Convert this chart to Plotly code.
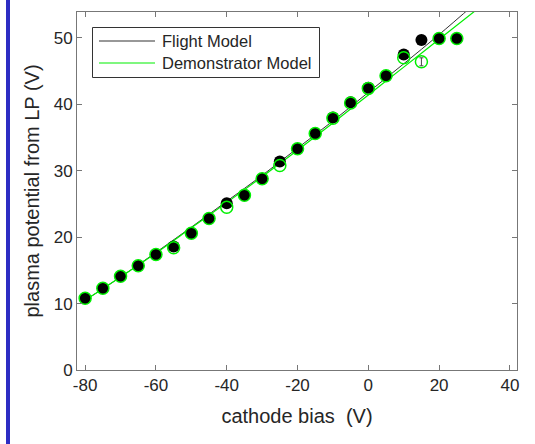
import plotly.graph_objects as go

# ---- data ----
cathode_bias = [-80, -75, -70, -65, -60, -55, -50, -45, -40, -35, -30, -25,
                -20, -15, -10, -5, 0, 5, 10, 15, 20, 25]
flight_pot = [10.8, 12.3, 14.1, 15.7, 17.4, 18.6, 20.6, 22.8, 25.1, 26.3, 28.8, 31.4,
              33.3, 35.6, 38.0, 40.3, 42.5, 44.3, 47.5, 49.7, 49.9, 49.9]
demo_pot = [10.8, 12.3, 14.1, 15.7, 17.4, 18.4, 20.6, 22.8, 24.5, 26.3, 28.8, 30.8,
            33.3, 35.6, 37.9, 40.2, 42.4, 44.3, 47.0, 46.4, 49.9, 49.9]
demo_err = [0, 0, 0, 0, 0, 0, 0, 0, 0, 0, 0, 0,
            0, 0, 0, 0, 0, 0, 0, 0.6, 0, 0]

fit_x = [-80, -70, -60, -50, -40, -30, -20, -10, 0, 10, 20, 30]
flight_fit = [10.5, 14.0, 17.7, 21.5, 25.4, 29.3, 33.4, 37.5, 41.8, 46.1, 50.5, 55.1]
demo_fit = [10.5, 14.0, 17.6, 21.4, 25.2, 29.1, 33.1, 37.2, 41.4, 45.6, 49.8, 54.0]

legend_names = ["Flight Model", "Demonstrator Model"]
x_ticks = [-80, -60, -40, -20, 0, 20, 40]
x_tick_labels = ["-80", "-60", "-40", "-20", "0", "20", "40"]
y_ticks = [0, 10, 20, 30, 40, 50]

# ---- layout geometry (pixels) ----
W, H = 535, 444
L, R, T, B = 77, 18, 12, 74
PW, PH = W - L - R, H - T - B


def px(xp):
    return (xp - L) / PW


def py(yp):
    return (H - B - yp) / PH


BLACK_LINE = "#333333"
GREEN = "#00f000"
TEXT = "#262626"
AXIS = "#777777"

fig = go.Figure()

# fit lines
fig.add_trace(go.Scatter(x=fit_x, y=flight_fit, mode="lines", line=dict(color=BLACK_LINE, width=1),
                         line_shape="spline", showlegend=False, hoverinfo="skip"))
fig.add_trace(go.Scatter(x=fit_x, y=demo_fit, mode="lines", line=dict(color=GREEN, width=1.2),
                         line_shape="spline", showlegend=False, hoverinfo="skip"))
# flight model points (filled black)
fig.add_trace(go.Scatter(x=cathode_bias, y=flight_pot, mode="markers",
                         marker=dict(symbol="circle", size=12, color="black"),
                         showlegend=False))
# error bars of demonstrator points (only where non-zero)
err_idx = [i for i, e in enumerate(demo_err) if e > 0]
fig.add_trace(go.Scatter(x=[cathode_bias[i] for i in err_idx], y=[demo_pot[i] for i in err_idx],
                         mode="markers", marker=dict(size=1, opacity=0),
                         error_y=dict(type="data", array=[demo_err[i] for i in err_idx], color="#444444",
                                      thickness=1, width=2, symmetric=True),
                         showlegend=False, hoverinfo="skip"))
# demonstrator points (open green)
fig.add_trace(go.Scatter(x=cathode_bias, y=demo_pot, mode="markers",
                         marker=dict(symbol="circle-open", size=12, color=GREEN, line=dict(width=1.5)),
                         showlegend=False))

shapes = []
# blue bar at left
shapes.append(dict(type="rect", xref="paper", yref="paper", x0=px(6), x1=px(10), y0=py(H), y1=py(0),
                   fillcolor="rgb(45,45,195)", line=dict(width=0), layer="above"))
# legend box
shapes.append(dict(type="rect", xref="paper", yref="paper", x0=px(92.5), x1=px(319.5), y0=py(77.5), y1=py(27.5),
                   fillcolor="white", line=dict(color="#333333", width=1), layer="above"))
leg_rows = [41, 63]
leg_cols = [BLACK_LINE, GREEN]
annotations = []
for name, yy, col in zip(legend_names, leg_rows, leg_cols):
    shapes.append(dict(type="line", xref="paper", yref="paper", x0=px(99), x1=px(155), y0=py(yy), y1=py(yy),
                       line=dict(color=col, width=1.2), layer="above"))
    annotations.append(dict(xref="paper", yref="paper", x=px(160), y=py(yy), text=name, showarrow=False,
                            xanchor="left", yanchor="middle", font=dict(size=16.5, color=TEXT)))

fig.update_layout(
    width=W, height=H,
    margin=dict(l=L, r=R, t=T, b=B),
    paper_bgcolor="white", plot_bgcolor="white",
    font=dict(family="Liberation Sans, Arial, sans-serif", color=TEXT),
    shapes=shapes, annotations=annotations,
    showlegend=False,
    xaxis=dict(range=[-82.3, 42.0], tickvals=x_ticks, ticktext=x_tick_labels, ticks="inside", ticklen=5,
               tickcolor=AXIS, showline=True, linecolor=AXIS, linewidth=1, mirror="ticks", showgrid=False,
               zeroline=False, tickfont=dict(size=17, color=TEXT),
               title=dict(text="cathode bias  (V)", font=dict(size=20, color=TEXT), standoff=14)),
    yaxis=dict(range=[0, 53.9], tickvals=y_ticks, ticks="inside", ticklen=5, tickcolor=AXIS,
               showline=True, linecolor=AXIS, linewidth=1, mirror="ticks", showgrid=False, zeroline=False,
               tickfont=dict(size=17, color=TEXT),
               title=dict(text="plasma potential from LP (V)", font=dict(size=20, color=TEXT), standoff=8)),
)

fig.write_html("out.html")
